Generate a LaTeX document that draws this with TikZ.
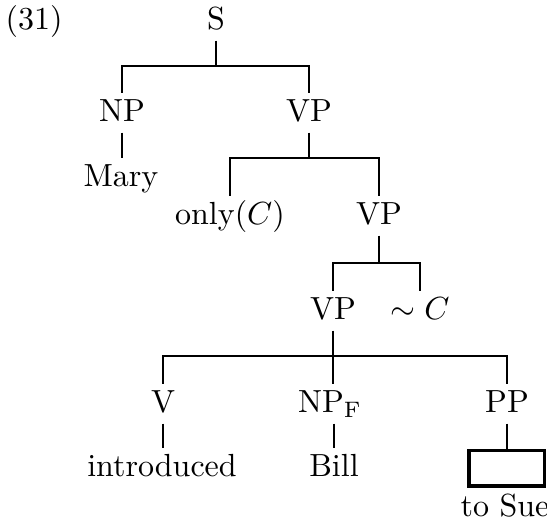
\documentclass[tikz,border=0pt]{standalone}
\begin{document}
\begin{tikzpicture}[x=0.3125pt,y=-0.3125pt,
  lab/.style={anchor=base,inner sep=0pt,text height=9pt,text depth=3.1pt},
  edge/.style={line width=0.7pt},
  boxnode/.style={draw,line width=1.1pt,minimum width=23.6pt,minimum height=11.1pt,inner sep=0pt}]
\useasboundingbox (0,0) rectangle (547,520);
% labels
\node[anchor=base,inner sep=0pt] (num) at (34,30) {(31)};
\node[lab] (S) at (216,30) {S};
\node[lab] (NP) at (122,122) {NP};
\node[lab] (VP) at (309,122) {VP};
\node[lab] (Mary) at (121,187) {Mary};
\node[lab] (only) at (230,225) {only$(C)$};
\node[lab] (VPb) at (379,225) {VP};
\node[lab] (VPc) at (333,320) {VP};
\node[lab] (simC) at (420,320) {$\sim C$};
\node[lab] (V) at (163,413) {V};
\node[lab] (NPF) at (330,413) {NP$_{\mathrm{F}}$};
\node[lab] (PP) at (507,413) {PP};
\node[lab] (intro) at (162,477) {introduced};
\node[lab] (Bill) at (334,477) {Bill};
\node[boxnode] (box) at (506.5,468.5) {};
\node[anchor=base,inner sep=0pt] (toSue) at (505,517) {to Sue};
% junctions
\coordinate (jS) at (216,66);
\coordinate (jVP) at (309,158);
\coordinate (jVPb) at (379,263);
\coordinate (jVPc) at (333,356);
% edges
\draw[edge] (S.south) -- (jS);
\draw[edge] (NP.north) |- (jS) -| (VP.north);
\draw[edge] (NP.south) -- (NP.south |- Mary.north);
\draw[edge] (VP.south) -- (jVP);
\draw[edge] (only.north) |- (jVP) -| (VPb.north);
\draw[edge] (VPb.south) -- (jVPb);
\draw[edge] (VPc.north) |- (jVPb) -| (simC.north);
\draw[edge] (VPc.south) -- (VPc.south |- NPF.north);
\draw[edge] (V.north) |- (jVPc) -| (PP.north);
\draw[edge] (V.south) -- (V.south |- intro.north);
\draw[edge] (Bill.north |- NPF.south) -- (Bill.north);
\draw[edge] (PP.south) -- (PP.south |- box.north);
\end{tikzpicture}
\end{document}
